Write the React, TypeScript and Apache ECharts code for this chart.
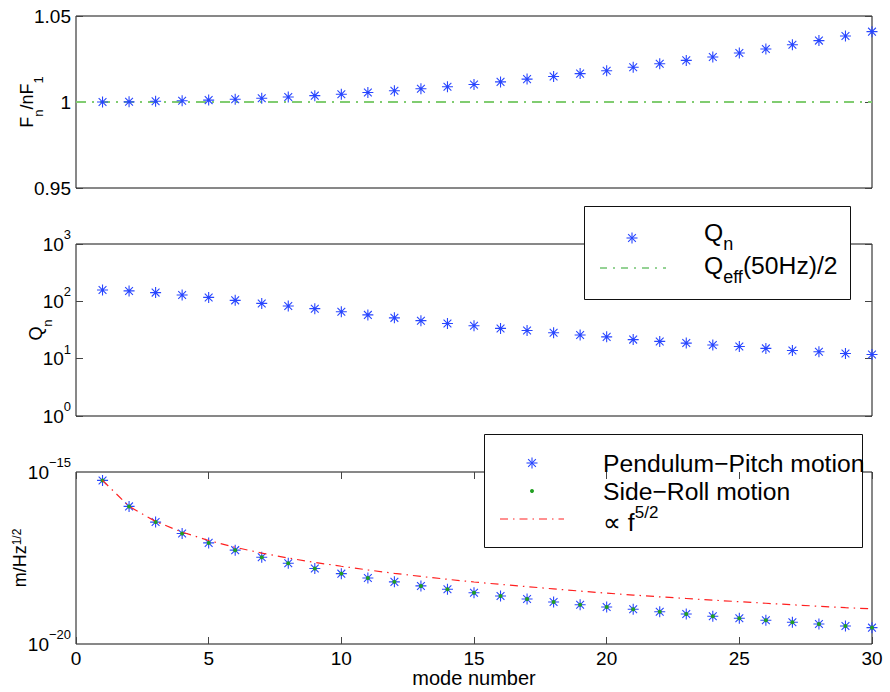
import React, { useEffect, useRef } from "react";
import * as echarts from "echarts";

// ---------- data ----------
const modeNumber = [
  1, 2, 3, 4, 5, 6, 7, 8, 9, 10, 11, 12, 13, 14, 15,
  16, 17, 18, 19, 20, 21, 22, 23, 24, 25, 26, 27, 28, 29, 30,
];

// F_n / (n F_1)
const freqRatio = [
  1.0, 1.0001, 1.0004, 1.0007, 1.0011, 1.0016, 1.0022, 1.0029, 1.0037, 1.0045,
  1.0055, 1.0065, 1.0077, 1.0089, 1.0102, 1.0117, 1.0133, 1.0148, 1.0165, 1.0182,
  1.0202, 1.0222, 1.0242, 1.0262, 1.0285, 1.0308, 1.0333, 1.0357, 1.0384, 1.0409,
];

// reference line in the top panel
const refLineX = [0, 30];
const refLineY = [1, 1];

// Q_n
const qFactor = [
  158, 152, 142, 129, 117, 104, 92, 83, 74.5, 66,
  58, 51.5, 46, 41, 37.4, 33.7, 31, 28.4, 25.8, 24,
  21.5, 20, 18.7, 17.3, 16.3, 15.1, 13.9, 13.2, 12.3, 11.8,
];

// amplitude spectral density, m/Hz^{1/2}
const pendulumPitch = [
  5.69e-16, 1.0e-16, 3.5e-17, 1.63e-17, 8.7e-18, 5.35e-18, 3.34e-18, 2.23e-18, 1.56e-18, 1.11e-18,
  8.3e-19, 6.4e-19, 4.88e-19, 3.9e-19, 3.1e-19, 2.49e-19, 2.04e-19, 1.66e-19, 1.39e-19, 1.19e-19,
  1.02e-19, 8.7e-20, 7.46e-20, 6.38e-20, 5.58e-20, 4.9e-20, 4.27e-20, 3.82e-20, 3.34e-20, 2.99e-20,
];
const sideRoll = [
  5.69e-16, 1.0e-16, 3.5e-17, 1.63e-17, 8.7e-18, 5.35e-18, 3.34e-18, 2.23e-18, 1.56e-18, 1.11e-18,
  8.3e-19, 6.4e-19, 4.88e-19, 3.9e-19, 3.1e-19, 2.49e-19, 2.04e-19, 1.66e-19, 1.39e-19, 1.19e-19,
  1.02e-19, 8.7e-20, 7.46e-20, 6.38e-20, 5.58e-20, 4.9e-20, 4.27e-20, 3.82e-20, 3.34e-20, 2.99e-20,
];
const f52Curve = [
  5.7e-16, 1.0e-16, 3.66e-17, 1.78e-17, 1.02e-17, 6.46e-18, 4.4e-18, 3.15e-18, 2.35e-18, 1.82e-18,
  1.42e-18, 1.13e-18, 9.2e-19, 7.6e-19, 6.35e-19, 5.4e-19, 4.65e-19, 4.0e-19, 3.45e-19, 3.0e-19,
  2.65e-19, 2.35e-19, 2.1e-19, 1.88e-19, 1.7e-19, 1.53e-19, 1.38e-19, 1.25e-19, 1.14e-19, 1.05e-19,
];

const xTicks = [0, 5, 10, 15, 20, 25, 30];
const ratioTicks = [0.95, 1, 1.05];
const qDecades = [1, 1000];
const asdDecades = [1e-20, 1e-15];

// ---------- styling ----------
const FONT = '"Liberation Sans", Arial, Helvetica, sans-serif';
const BLUE = "#2846ff";
const DOT_GREEN = "#22a022";
const STAR =
  "path://M0,5.4H12V6.6H0Z M5.4,0H6.6V12H5.4Z M1.33,2.17L2.17,1.33L10.67,9.83L9.83,10.67Z M9.83,1.33L10.67,2.17L2.17,10.67L1.33,9.83Z";
const ASD_UNIT = 1e-20; // plotted in units of 1e-20 m/Hz^1/2

const GRID_LEFT = 76;
const GRID_W = 796;
const GRID_H = 172;
const TOPS = [16, 244, 472];

const tickStyle = { inside: true, length: 7, lineStyle: { color: "#444", width: 1 } };

const supRich = {
  b: { fontSize: 19, fontFamily: FONT, color: "#000" },
  s: { fontSize: 13, fontFamily: FONT, color: "#000", padding: [0, 0, 19, 0] },
};

function expLabel(exp: number) {
  const e = exp < 0 ? "\u2212" + Math.abs(exp) : String(exp);
  return "{b|10}{s|" + e + "}";
}

function asterisk(cx: number, cy: number, r: number) {
  const d = r * 0.7071;
  const st = { stroke: BLUE, lineWidth: 1.1 };
  return [
    { type: "line", shape: { x1: cx - r, y1: cy, x2: cx + r, y2: cy }, style: st },
    { type: "line", shape: { x1: cx, y1: cy - r, x2: cx, y2: cy + r }, style: st },
    { type: "line", shape: { x1: cx - d, y1: cy - d, x2: cx + d, y2: cy + d }, style: st },
    { type: "line", shape: { x1: cx - d, y1: cy + d, x2: cx + d, y2: cy - d }, style: st },
  ];
}

const LEG_FS = 24.7;
const legendRich = {
  m: { fontSize: LEG_FS, fontFamily: FONT, color: "#000", lineHeight: 26 },
  mt: { fontSize: LEG_FS, fontFamily: FONT, color: "#000", lineHeight: 42 },
  mu: { fontSize: LEG_FS, fontFamily: FONT, color: "#000", lineHeight: 36 },
  sub: { fontSize: 18, fontFamily: FONT, color: "#000", lineHeight: 14, verticalAlign: "bottom" },
  sup: { fontSize: 17, fontFamily: FONT, color: "#000", lineHeight: 12, verticalAlign: "top" },
};

function legendText(x: number, y: number, text: string) {
  return {
    type: "text",
    x,
    y,
    style: {
      text,
      rich: legendRich,
      fontSize: LEG_FS,
      fontFamily: FONT,
      fill: "#000",
      align: "left",
      verticalAlign: "middle",
      textAlign: "left",
      textVerticalAlign: "middle",
    },
  };
}

function buildOption() {
  const xBase = (gridIndex: number) => ({
    gridIndex,
    type: "value",
    min: xTicks[0],
    max: xTicks[xTicks.length - 1],
    interval: xTicks[1] - xTicks[0],
    axisLine: { show: false },
    splitLine: { show: false },
    axisTick: { show: false },
    axisLabel: { show: false },
  });

  const xAxis = [
    xBase(0),
    xBase(1),
    {
      ...xBase(2),
      position: "bottom",
      axisTick: tickStyle,
      axisLabel: {
        show: true,
        fontSize: 19,
        lineHeight: 16,
        fontFamily: FONT,
        color: "#000",
        margin: 6,
      },
      name: "mode number",
      nameLocation: "middle",
      nameGap: 34,
      nameMoveOverlap: false,
      nameTextStyle: {
        fontSize: 20,
        lineHeight: 16,
        fontFamily: FONT,
        color: "#000",
        verticalAlign: "middle",
      },
    },
    { ...xBase(2), position: "top", axisTick: tickStyle },
  ];

  const nameStyle = (subPad: number, supPad: number) => ({
    fontFamily: FONT,
    fontSize: 18,
    color: "#000",
    rich: {
      m: { fontSize: 18, lineHeight: 18, fontFamily: FONT, color: "#000" },
      s: { fontSize: 13, lineHeight: 13, fontFamily: FONT, color: "#000", padding: [subPad, 0, 0, 0] },
      p: { fontSize: 12, lineHeight: 12, fontFamily: FONT, color: "#000", padding: [0, 0, supPad, 0] },
    },
  });

  const yAxis = [
    {
      gridIndex: 0,
      type: "value",
      position: "left",
      min: ratioTicks[0],
      max: ratioTicks[2],
      interval: ratioTicks[1] - ratioTicks[0],
      axisLine: { show: false },
      splitLine: { show: false },
      axisTick: tickStyle,
      axisLabel: {
        fontSize: 19,
        fontFamily: FONT,
        color: "#000",
        margin: 5,
        formatter: (v: number) => String(Number(v.toFixed(2))),
      },
      name: "{m|F}{s|n}{m|/nF}{s|1}",
      nameLocation: "middle",
      nameRotate: 90,
      nameGap: 40,
      nameMoveOverlap: false,
      nameTextStyle: nameStyle(23, 0),
    },
    {
      gridIndex: 0,
      type: "value",
      position: "right",
      min: ratioTicks[0],
      max: ratioTicks[2],
      interval: ratioTicks[1] - ratioTicks[0],
      axisLine: { show: false },
      splitLine: { show: false },
      axisTick: tickStyle,
      axisLabel: { show: false },
    },
    {
      gridIndex: 1,
      type: "log",
      logBase: 10,
      position: "left",
      min: qDecades[0],
      max: qDecades[1],
      axisLine: { show: false },
      splitLine: { show: false },
      minorTick: { show: false },
      axisTick: tickStyle,
      axisLabel: {
        margin: 5,
        formatter: (v: number) => expLabel(Math.round(Math.log10(v))),
        rich: supRich,
      },
      name: "{m|Q}{s|n}",
      nameLocation: "middle",
      nameRotate: 90,
      nameGap: 31,
      nameMoveOverlap: false,
      nameTextStyle: nameStyle(22, 0),
    },
    {
      gridIndex: 1,
      type: "log",
      logBase: 10,
      position: "right",
      min: qDecades[0],
      max: qDecades[1],
      axisLine: { show: false },
      splitLine: { show: false },
      axisTick: tickStyle,
      axisLabel: { show: false },
    },
    {
      gridIndex: 2,
      type: "log",
      logBase: 10,
      position: "left",
      min: asdDecades[0] / ASD_UNIT,
      max: asdDecades[1] / ASD_UNIT,
      axisLine: { show: false },
      splitLine: { show: false },
      axisTick: { show: false },
      axisLabel: {
        margin: 5,
        formatter: (v: number) => {
          const exp = Math.round(Math.log10(v)) - 20;
          const ends = asdDecades.map((d) => Math.round(Math.log10(d)));
          return ends.indexOf(exp) >= 0 ? expLabel(exp) : "";
        },
        rich: supRich,
      },
      name: "{m|m/Hz}{p|1/2}",
      nameLocation: "middle",
      nameRotate: 90,
      nameGap: 47,
      nameMoveOverlap: false,
      nameTextStyle: nameStyle(0, 6),
    },
    {
      gridIndex: 2,
      type: "log",
      logBase: 10,
      position: "right",
      min: asdDecades[0] / ASD_UNIT,
      max: asdDecades[1] / ASD_UNIT,
      axisLine: { show: false },
      splitLine: { show: false },
      axisTick: { show: false },
      axisLabel: { show: false },
    },
  ];

  const grid = TOPS.map((top) => ({
    left: GRID_LEFT,
    top,
    width: GRID_W,
    height: GRID_H,
    containLabel: false,
    outerBoundsMode: "none",
    show: true,
    borderColor: "#111",
    borderWidth: 1,
    backgroundColor: "transparent",
  }));

  const starSeries = (name: string, xi: number, yi: number, data: number[][]) => ({
    name,
    type: "scatter",
    xAxisIndex: xi,
    yAxisIndex: yi,
    data,
    symbol: STAR,
    symbolSize: 11,
    itemStyle: { color: BLUE, opacity: 1 },
    z: 3,
    silent: true,
  });

  const series = [
    {
      name: "reference",
      type: "line",
      xAxisIndex: 0,
      yAxisIndex: 0,
      data: refLineX.map((x, i) => [x, refLineY[i]]),
      showSymbol: false,
      symbol: "none",
      lineStyle: { color: "#80cc70", width: 2, type: [10, 6, 2, 6] },
      z: 2,
      silent: true,
    },
    starSeries("F_n/nF_1", 0, 0, modeNumber.map((n, i) => [n, freqRatio[i]])),
    starSeries("Q_n", 1, 2, modeNumber.map((n, i) => [n, qFactor[i]])),
    starSeries(
      "Pendulum-Pitch motion",
      2,
      4,
      modeNumber.map((n, i) => [n, pendulumPitch[i] / ASD_UNIT])
    ),
    {
      name: "Side-Roll motion",
      type: "scatter",
      xAxisIndex: 2,
      yAxisIndex: 4,
      data: modeNumber.map((n, i) => [n, sideRoll[i] / ASD_UNIT]),
      symbol: "circle",
      symbolSize: 4,
      itemStyle: { color: DOT_GREEN, opacity: 1 },
      z: 4,
      silent: true,
    },
    {
      name: "f^5/2",
      type: "line",
      xAxisIndex: 2,
      yAxisIndex: 4,
      data: modeNumber.map((n, i) => [n, f52Curve[i] / ASD_UNIT]),
      showSymbol: false,
      symbol: "none",
      smooth: false,
      lineStyle: { color: "#ff2020", width: 1.2, type: [8, 5, 1.5, 5] },
      z: 5,
      silent: true,
    },
  ];

  const graphic = [
    {
      type: "group",
      z: 100,
      children: [
        {
          type: "rect",
          shape: { x: 584.5, y: 206.5, width: 266, height: 93 },
          style: { fill: "#fff", stroke: "#111", lineWidth: 1 },
        },
        ...asterisk(632, 238, 5.5),
        {
          type: "line",
          shape: { x1: 600, y1: 268, x2: 666, y2: 268 },
          style: { stroke: "#2aa52a", lineWidth: 1, lineDash: [7, 6, 2, 6] },
        },
        legendText(704, 232, "{mt|Q}{sub|n}"),
        legendText(704, 265, "{mt|Q}{sub|eff}{mt|(50Hz)/2}"),
      ],
    },
    {
      type: "group",
      z: 100,
      children: [
        {
          type: "rect",
          shape: { x: 484.5, y: 434.5, width: 378, height: 113 },
          style: { fill: "#fff", stroke: "#111", lineWidth: 1 },
        },
        ...asterisk(532, 463, 5.5),
        { type: "circle", shape: { cx: 532, cy: 491, r: 2 }, style: { fill: DOT_GREEN } },
        {
          type: "line",
          shape: { x1: 500, y1: 519, x2: 564, y2: 519 },
          style: { stroke: "#ff2020", lineWidth: 1, lineDash: [8, 5, 1.5, 5] },
        },
        legendText(603, 463, "{m|Pendulum\u2212Pitch motion}"),
        legendText(603, 491, "{m|Side\u2212Roll motion}"),
        legendText(603, 522, "{mu|\u221D f}{sup|5/2}"),
      ],
    },
  ];

  return {
    animation: false,
    backgroundColor: "#fff",
    textStyle: { fontFamily: FONT },
    grid,
    xAxis,
    yAxis,
    series,
    graphic,
  };
}

export default function App() {
  const ref = useRef<HTMLDivElement>(null);
  useEffect(() => {
    if (!ref.current) return;
    const chart = echarts.init(ref.current, null, { renderer: "svg" });
    chart.setOption(buildOption() as any);
    return () => chart.dispose();
  }, []);
  return (
    <div
      ref={ref}
      style={{ position: "absolute", left: 0, top: 0, width: 890, height: 692 }}
    />
  );
}
